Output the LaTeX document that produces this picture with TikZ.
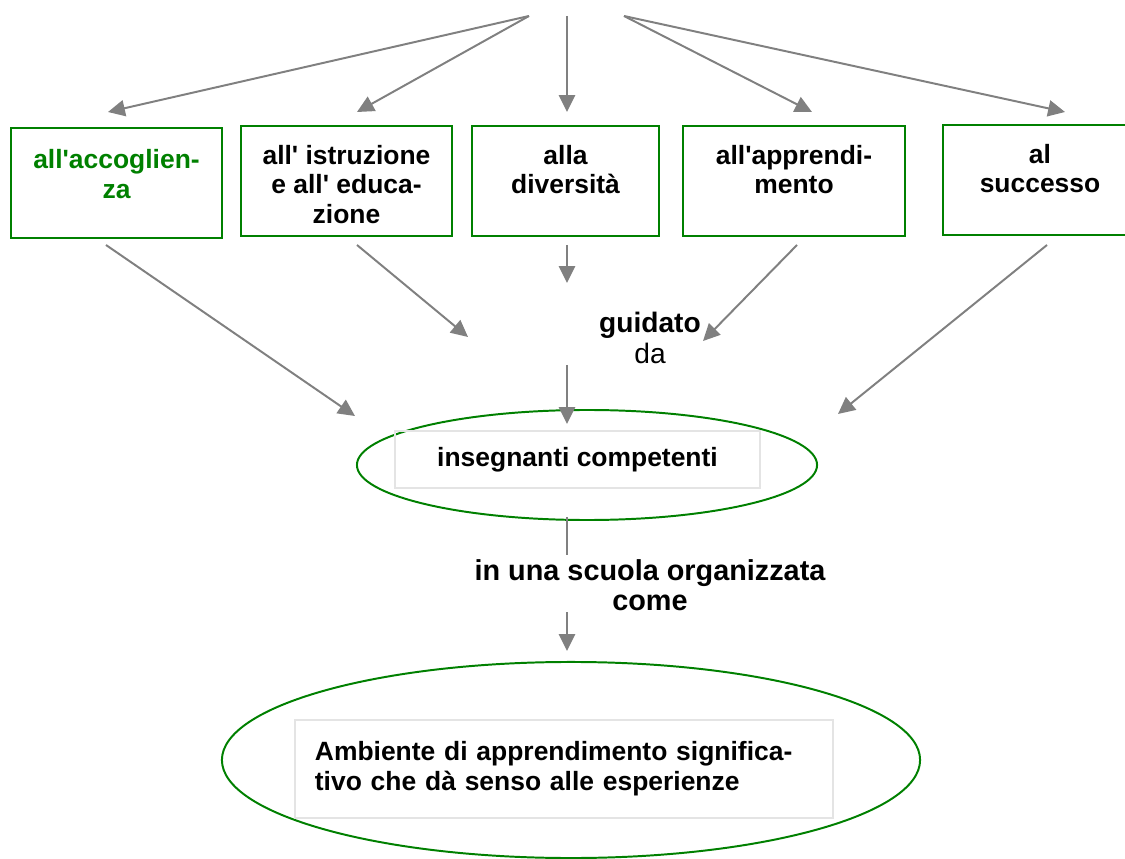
\documentclass[tikz,border=0pt]{standalone}
\usepackage{fontspec}
\setmainfont{Liberation Sans}
\usetikzlibrary{positioning,arrows.meta,shapes.geometric}
\definecolor{boxgreen}{RGB}{0,128,0}
\definecolor{arrgray}{RGB}{128,128,128}
\definecolor{framegray}{RGB}{228,228,228}
\newcommand{\apo}{\textquotesingle}

\tikzset{
  box/.style={draw=boxgreen, line width=1.4pt, rectangle, inner sep=0pt},
  boxtext/.style={font=\fontsize{18.8}{21}\selectfont\bfseries, align=center, inner sep=0pt},
  frame/.style={draw=framegray, line width=1pt, rectangle, inner sep=0pt},
  oval/.style={draw=boxgreen, line width=1.4pt, ellipse, inner sep=0pt},
  link/.style={draw=arrgray, line width=1.4pt, -{Triangle[width=11.5pt,length=12pt]}},
  lbl/.style={font=\fontsize{20}{21.5}\selectfont, align=center, inner sep=0pt}
}

\begin{document}
\begin{tikzpicture}[x=0.025cm, y=-0.025cm]
\useasboundingbox (0,0) rectangle (1125,859);

% the five boxes
\node[box, minimum width=5.275cm, minimum height=2.75cm] (acc) at (116.5,183) {};
\node[box, minimum width=5.275cm, minimum height=2.75cm] (istr) at (346.5,181) {};
\node[box, minimum width=4.675cm, minimum height=2.75cm] (div) at (565.5,181) {};
\node[box, minimum width=5.55cm, minimum height=2.75cm] (appr) at (794,181) {};
\node[box, minimum width=4.85cm, minimum height=2.75cm] (succ) at (1040,180) {};

\node[boxtext, text=boxgreen, below=16pt of acc.north] (accT) {all\apo accoglien-\\za};
\node[boxtext, below=14pt of istr.north] (istrT) {all\apo{} istruzione\\e all\apo{} educa-\\zione};
\node[boxtext, below=14pt of div.north] (divT) {alla\\diversità};
\node[boxtext, below=14pt of appr.north] (apprT) {all\apo apprendi-\\mento};
\node[boxtext, below=14pt of succ.north] (succT) {al\\successo};

% arrows from the top
\coordinate (fromL) at (529,16);
\coordinate (fromM) at (567,16);
\coordinate (fromR) at (624,16);
\coordinate (accIn) at (108,112);
\coordinate (istrIn) at (357,112);
\coordinate (divIn) at (567,112);
\coordinate (apprIn) at (812,112);
\coordinate (succIn) at (1065,112);
\draw[link] (fromL) -- (accIn);
\draw[link] (fromL) -- (istrIn);
\draw[link] (fromM) -- (divIn);
\draw[link] (fromR) -- (apprIn);
\draw[link] (fromR) -- (succIn);

% teachers
\node[oval, minimum width=11.5cm, minimum height=2.75cm] (teach) at (587,465) {};
\node[frame, minimum width=9.125cm, minimum height=1.425cm, font=\fontsize{18.8}{21}\selectfont\bfseries] (teachT) at (577.5,459.5) {insegnanti competenti};

\node[lbl] (guided) at (650,338) {\textbf{guidato}\\da};

% arrows towards the teachers
\coordinate (accOut) at (106,245);
\coordinate (istrOut) at (357,245);
\coordinate (divOut) at (567,245);
\coordinate (apprOut) at (797,245);
\coordinate (succOut) at (1047,245);
\coordinate (accEnd) at (355,416);
\coordinate (istrEnd) at (468,337);
\coordinate (divEnd) at (567,283);
\coordinate (apprEnd) at (703,341);
\coordinate (succEnd) at (838,414);
\coordinate (guideOut) at (567,365);
\coordinate (guideEnd) at (567,424);
\draw[link] (accOut) -- (accEnd);
\draw[link] (istrOut) -- (istrEnd);
\draw[link] (divOut) -- (divEnd);
\draw[link] (apprOut) -- (apprEnd);
\draw[link] (succOut) -- (succEnd);
\draw[link] (guideOut) -- (guideEnd);

% school
\node[lbl, font=\fontsize{20.5}{21.5}\selectfont\bfseries] (school) at (650,585) {in una scuola organizzata\\come};
\coordinate (teachOut) at (567,517);
\coordinate (schoolIn) at (567,555);
\coordinate (schoolOut) at (567,612);
\coordinate (envEnd) at (567,651);
\draw[arrgray, line width=1.4pt] (teachOut) -- (schoolIn);
\draw[link] (schoolOut) -- (envEnd);

% environment
\node[oval, minimum width=17.45cm, minimum height=4.9cm] (env) at (571,760) {};
\node[frame, minimum width=13.45cm, minimum height=2.45cm, text width=12.45cm, inner xsep=0.5cm, align=left, font=\fontsize{18.8}{21.5}\selectfont\bfseries] (envT) at (564,769) {Ambiente di apprendimento significa-\\tivo che dà senso alle esperienze};

\end{tikzpicture}
\end{document}
